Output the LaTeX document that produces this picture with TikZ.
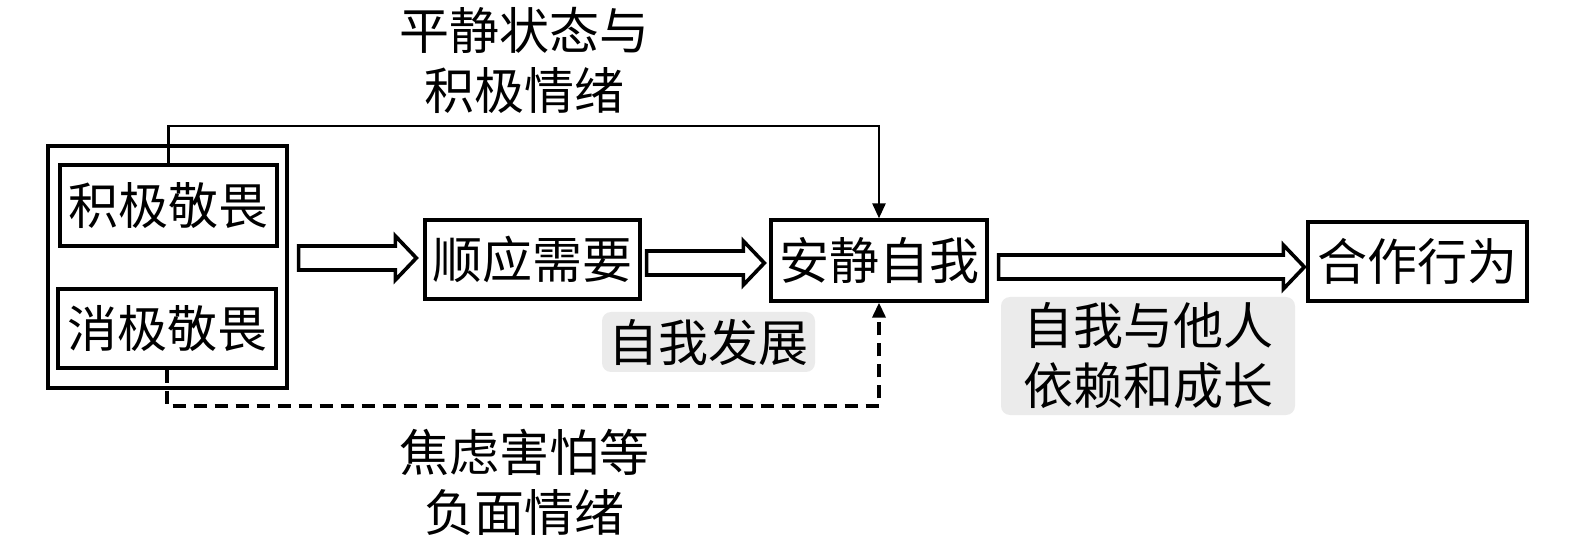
\documentclass[tikz,border=0pt]{standalone}
\usepackage{fontspec}
\newfontfamily\cjk{Noto Sans CJK SC}
\usetikzlibrary{arrows.meta,calc}
\tikzset{
  box/.style={draw, line width=3.3pt, inner sep=0pt, font=\cjk\fontsize{50}{60}\selectfont},
  lbl/.style={inner sep=0pt, align=center, font=\cjk\fontsize{50}{60}\selectfont},
  shade/.style={fill=black!8, rounded corners=9pt, inner sep=0pt, align=center, font=\cjk\fontsize{50}{60}\selectfont},
  hollow/.style={draw, line width=3.6pt, fill=white, line join=miter},
  conn/.style={line width=2.6pt, -{Triangle[length=15pt,width=13pt]}},
}
\newcommand\harrow[5]{\draw[hollow] let \p1=(#1), \p2=(#2), \p3=(0,#3) in
  (\x1+#4,\y3+12pt) -- (\x2-#5-21pt,\y3+12pt) -- (\x2-#5-21pt,\y3+22pt) -- (\x2-#5,\y3)
  -- (\x2-#5-21pt,\y3-22pt) -- (\x2-#5-21pt,\y3-12pt) -- (\x1+#4,\y3-12pt) -- cycle;}
\begin{document}
\begin{tikzpicture}[x=1pt,y=-1pt]
\useasboundingbox (0,0) rectangle (1575,545);
\node[box, minimum width=239pt, minimum height=242pt] (outer) at (167.5,267) {};
\node[box, minimum width=217pt, minimum height=81pt] (pos) at (168.5,205.5) {积极敬畏};
\node[box, minimum width=218pt, minimum height=79pt] (neg) at (167,328.5) {消极敬畏};
\node[box, minimum width=215pt, minimum height=79pt] (shun) at (532.5,259.5) {顺应需要};
\node[box, minimum width=216pt, minimum height=81pt] (anjing) at (879,260.5) {安静自我};
\node[box, minimum width=219pt, minimum height=79pt] (hezuo) at (1417.5,261.5) {合作行为};
\node[shade, minimum width=213pt, minimum height=60pt] (fazhan) at (708.5,342) {自我发展};
\node[shade, minimum width=294pt, minimum height=118pt] (yilai) at (1148,356) {自我与他人\\依赖和成长};
\node[lbl] (toplbl) at (524,60) {平静状态与\\积极情绪};
\node[lbl] (botlbl) at (524,482) {焦虑害怕等\\负面情绪};
\harrow{outer.east}{shun.west}{258}{10pt}{7pt}
\harrow{shun.east}{anjing.west}{263}{5pt}{5pt}
\harrow{anjing.east}{hezuo.west}{267}{10pt}{2pt}
\draw[conn] (pos.north) -- (pos.north |- 0,126) -| (anjing.north);
\draw[conn, line width=3.4pt, dash pattern=on 13pt off 8pt] (neg.south) -- (neg.south |- 0,406) -| (anjing.south);
\end{tikzpicture}
\end{document}
